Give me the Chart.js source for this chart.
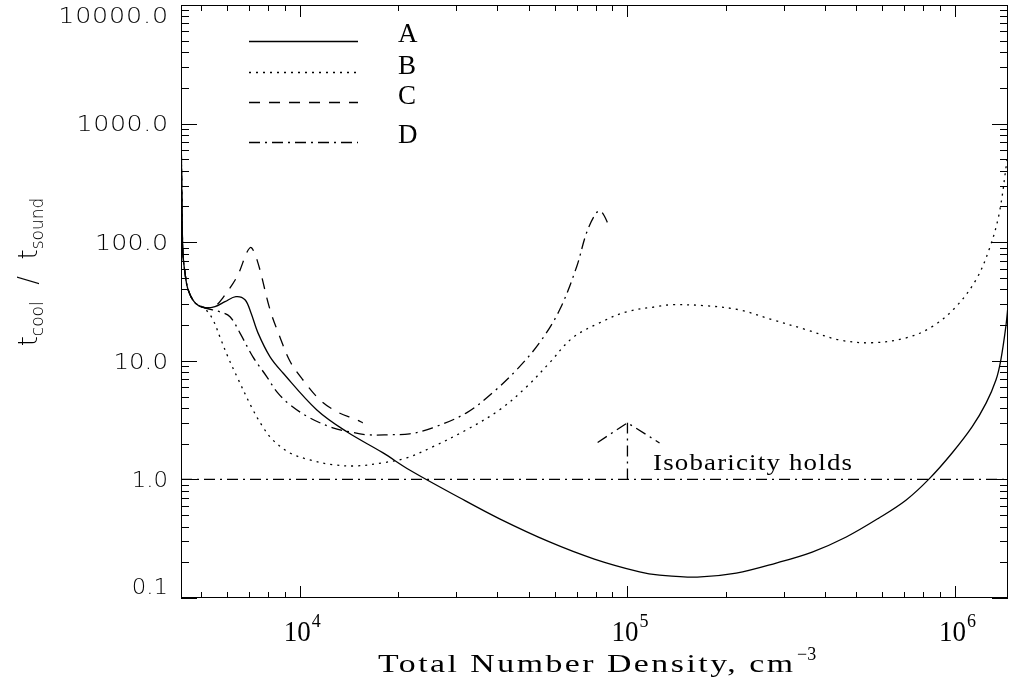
<!DOCTYPE html>
<html>
<head>
<meta charset="utf-8">
<title>t_cool / t_sound vs density</title>
<script src="https://cdn.jsdelivr.net/npm/chart.js@4.4.1/dist/chart.umd.min.js"></script>
<style>
    html, body { margin: 0; padding: 0; background: #fff; }
    #wrap { width: 1009px; height: 685px; position: relative; }
</style>
</head>
<body>
<div id="wrap"><canvas id="chart"></canvas></div>
<script>
// ========== DATA ==========
const xMin = 4337;
const xMax = 1451000;
const yMin = 0.1;
const yMax = 10000;

const xTickValues = [1e4, 1e5, 1e6];
const xTickExponents = ['4', '5', '6'];
const yTickValues = [0.1, 1, 10, 100, 1000, 10000];
const yTickLabels = ['0.1', '1.0', '10.0', '100.0', '1000.0', '10000.0'];

const densityA = [4340, 4365, 4395, 4460, 4560, 4790, 5130, 5510, 5910, 6380, 6800, 7090, 7450, 8110, 8870,
    11270, 13910, 17900, 21630, 30760, 40720, 57830, 79250, 108900, 125300, 163300, 214800, 284400,
    366400, 465600, 586100, 709600, 833700, 979500, 1127000, 1245000, 1334000, 1380000, 1429000, 1452000];
const ratioA = [890, 229, 81.5, 55.3, 39.7, 30.8, 28.0, 28.6, 31.5, 34.7, 32.7, 25.4, 17.2, 10.8, 7.93,
    3.85, 2.52, 1.68, 1.20, 0.70, 0.465, 0.297, 0.213, 0.166, 0.156, 0.150, 0.162, 0.197,
    0.244, 0.327, 0.473, 0.671, 1.01, 1.67, 2.77, 4.42, 6.92, 10.2, 19.4, 29.7];

const densityB = [4340, 4365, 4395, 4460, 4560, 4790, 5130, 5430, 5700, 6030, 6430, 7140, 7710, 8270, 9330,
    10730, 12610, 14920, 17910, 21190, 25420, 32270, 40720, 49230, 57830, 67940, 82200, 99400,
    122500, 137100, 174100, 219500, 276600, 351400, 443000, 558200, 709400, 851200, 1007000,
    1159000, 1270000, 1362000, 1442000];
const ratioB = [890, 229, 81.5, 55.3, 39.7, 30.8, 27.5, 22.2, 15.9, 10.8, 7.33, 4.01, 2.77, 2.15, 1.67,
    1.46, 1.33, 1.30, 1.38, 1.52, 1.88, 2.62, 3.86, 6.04, 9.62, 15.6, 20.9, 25.9,
    28.6, 29.7, 29.1, 26.9, 22.2, 18.3, 15.0, 14.2, 15.6, 19.4, 28.6,
    48.3, 86.4, 171, 497];

const densityC = [4340, 4365, 4395, 4460, 4560, 4790, 5130, 5510, 5820, 6430, 7050, 7400, 8110, 8690, 9330,
    10210, 11510, 12970, 14920, 15560];
const ratioC = [890, 229, 81.5, 55.3, 39.7, 30.8, 28.0, 29.0, 34.0, 51.2, 90, 71, 26.9, 15.9, 9.9,
    6.92, 4.69, 3.72, 3.18, 3.0];

const densityD = [4340, 4365, 4395, 4460, 4560, 4790, 5130, 5700, 6120, 6560, 7190, 7930, 8510, 9330, 10730,
    12610, 14190, 15990, 18790, 21630, 25420, 32270, 38730, 45880, 53920, 62090, 69980, 75030,
    80400, 83290, 88130];
const ratioD = [890, 229, 81.5, 55.3, 39.7, 30.8, 28.0, 25.9, 23.5, 17.2, 10.8, 7.33, 5.47, 4.26, 3.30,
    2.72, 2.52, 2.38, 2.38, 2.42, 2.72, 3.64, 5.37, 8.39, 14.2, 26.9, 62.1, 120,
    177, 181, 135];

// isobaricity line and arrow
const densityIso = [xMin, xMax];
const ratioIso = [1, 1];
const densityArrow = [1e5, 1e5];
const ratioArrow = [1, 3.0];
const densityHead = [81100, 1e5, 125300];
const ratioHead = [2.05, 3.0, 2.03];

// ========== STYLE ==========
const SERIF = '"Liberation Serif", "DejaVu Serif", serif';
const SANS = '"DejaVu Sans", "Liberation Sans", sans-serif';
const DOTTED = [2, 5];
const DASHED = [11, 9];
const DASHDOT = [11, 5, 2, 5];

function pts(xs, ys) {
    return xs.map((x, i) => ({ x: x, y: ys[i] }));
}

// draw text widened to a given width (some stretch, rest letter spacing)
function fitText(ctx, text, x, y, width, align, maxStretch) {
    ctx.letterSpacing = '0px';
    const w = ctx.measureText(text).width;
    const sx = Math.min(width / w, maxStretch || 1);
    const ls = text.length > 1 ? (width / sx - w) / (text.length - 1) : 0;
    ctx.letterSpacing = ls + 'px';
    ctx.textAlign = 'left';
    let start = x;
    if (align === 'right') start = x - width;
    if (align === 'center') start = x - width / 2;
    ctx.save();
    ctx.translate(start, y);
    ctx.scale(sx, 1);
    ctx.fillText(text, 0, 0);
    ctx.restore();
    ctx.letterSpacing = '0px';
}

function seg(ctx, x1, y1, x2, y2) {
    ctx.beginPath();
    ctx.moveTo(x1, y1);
    ctx.lineTo(x2, y2);
    ctx.stroke();
}

// ========== FRAME, TICKS, LABELS ==========
const axisFrame = {
    id: 'axisFrame',
    afterDatasetsDraw(chart) {
        const { ctx, chartArea: a } = chart;
        const xs = chart.scales.x;
        const ys = chart.scales.y;
        ctx.save();
        ctx.strokeStyle = '#000';
        ctx.fillStyle = '#000';
        ctx.lineWidth = 1;
        ctx.setLineDash([]);
        ctx.strokeRect(a.left + 0.5, a.top + 0.5, a.right - a.left - 1, a.bottom - a.top - 1);

        // x ticks (top and bottom, inward)
        for (let e = 3; e <= 6; e++) {
            for (let k = 1; k <= 9; k++) {
                const v = k * Math.pow(10, e);
                if (v < xs.min || v > xs.max) continue;
                const px = Math.round(xs.getPixelForValue(v)) + 0.5;
                const len = k === 1 ? 12 : 6;
                seg(ctx, px, a.bottom, px, a.bottom - len);
                seg(ctx, px, a.top, px, a.top + len);
            }
        }
        // y ticks (left and right, inward)
        for (let e = -1; e <= 4; e++) {
            for (let k = 1; k <= 9; k++) {
                const v = k * Math.pow(10, e);
                if (v < ys.min * 0.999 || v > ys.max * 1.001) continue;
                const py = Math.round(ys.getPixelForValue(v)) + 0.5;
                const len = k === 1 ? 16 : 8;
                seg(ctx, a.left, py, a.left + len, py);
                seg(ctx, a.right, py, a.right - len, py);
            }
        }

        // y tick labels
        ctx.font = '200 22px ' + SANS;
        ctx.textBaseline = 'middle';
        yTickValues.forEach((v, i) => {
            const text = yTickLabels[i];
            let py = ys.getPixelForValue(v) + 2;
            py = Math.min(Math.max(py, 17), 588);
            fitText(ctx, text, 168, py, 18.4 * text.length - 19, 'right', 1.15);
        });

        // x tick labels: 10 with superscript exponent
        ctx.textBaseline = 'alphabetic';
        xTickValues.forEach((v, i) => {
            const cx = xs.getPixelForValue(v) + 2.5;
            const wBase = 27;
            ctx.font = '18px ' + SERIF;
            const wExp = ctx.measureText(xTickExponents[i]).width;
            const left = cx - (wBase + 1 + wExp) / 2;
            ctx.font = '29px ' + SERIF;
            fitText(ctx, '10', left, 641, wBase, 'left', 1);
            ctx.font = '18px ' + SERIF;
            ctx.fillText(xTickExponents[i], left + wBase + 1, 627);
        });

        // x title
        ctx.font = '26px ' + SERIF;
        fitText(ctx, 'Total Number Density, cm', 378, 672, 415, 'left', 1.3);
        ctx.font = '18px ' + SERIF;
        ctx.textAlign = 'left';
        ctx.fillText('\u22123', 797, 660);

        // y title, rotated: t_cool / t_sound
        ctx.save();
        ctx.translate(37, 272);
        ctx.rotate(-Math.PI / 2);
        const parts = [
            { t: 't', f: '300 26px ' + SANS, dy: 0 },
            { t: 'cool', f: '300 17px ' + SANS, dy: 6 },
            { t: '  /  ', f: '300 26px ' + SANS, dy: 0 },
            { t: 't', f: '300 26px ' + SANS, dy: 0 },
            { t: 'sound', f: '300 17px ' + SANS, dy: 6 }
        ];
        let total = 0;
        parts.forEach(p => { ctx.font = p.f; p.w = ctx.measureText(p.t).width; total += p.w; });
        let tx = -total / 2;
        ctx.textAlign = 'left';
        parts.forEach(p => {
            ctx.font = p.f;
            ctx.fillText(p.t, tx, p.dy);
            tx += p.w;
        });
        ctx.restore();

        // annotation
        ctx.font = '24px ' + SERIF;
        fitText(ctx, 'Isobaricity holds', 653, 470, 199, 'left', 1.12);
        ctx.restore();
    }
};

// ========== LEGEND (line samples + letters) ==========
const curveLegend = {
    id: 'curveLegend',
    afterDatasetsDraw(chart, args, opts) {
        const ctx = chart.ctx;
        ctx.save();
        let row = 0;
        chart.data.datasets.forEach(ds => {
            if (!ds.label) return;
            const ly = opts.lineY[row] + 0.5;
            ctx.strokeStyle = ds.borderColor;
            ctx.lineWidth = ds.borderWidth;
            ctx.setLineDash(ds.borderDash || []);
            seg(ctx, opts.x1, ly, opts.x2, ly);
            ctx.setLineDash([]);
            ctx.fillStyle = '#000';
            ctx.font = '27px ' + SERIF;
            ctx.textAlign = 'left';
            ctx.textBaseline = 'alphabetic';
            ctx.fillText(ds.label, opts.textX, opts.textY[row]);
            row++;
        });
        ctx.restore();
    }
};

function curve(label, xs, ys, dash) {
    return {
        label: label,
        data: pts(xs, ys),
        borderColor: '#000',
        borderWidth: 1.3,
        borderDash: dash,
        pointRadius: 0,
        fill: false,
        tension: 0.35
    };
}

function guide(xs, ys) {
    return {
        label: '',
        data: pts(xs, ys),
        borderColor: '#000',
        borderWidth: 1.3,
        borderDash: DASHDOT,
        pointRadius: 0,
        fill: false,
        tension: 0
    };
}

// ========== INITIALIZATION ==========
const ctx = document.getElementById('chart').getContext('2d');
new Chart(ctx, {
    type: 'line',
    data: {
        datasets: [
            curve('A', densityA, ratioA, []),
            curve('B', densityB, ratioB, DOTTED),
            curve('C', densityC, ratioC, DASHED),
            curve('D', densityD, ratioD, DASHDOT),
            guide(densityIso, ratioIso),
            guide(densityArrow, ratioArrow),
            guide(densityHead, ratioHead)
        ]
    },
    options: {
        animation: false,
        responsive: true,
        maintainAspectRatio: false,
        devicePixelRatio: 1,
        layout: { padding: { left: 181, right: 1, top: 5, bottom: 87 } },
        plugins: {
            legend: { display: false },
            tooltip: { enabled: false },
            curveLegend: { x1: 249, x2: 358, lineY: [41, 72, 102, 142], textX: 398, textY: [42, 74, 104, 143] }
        },
        scales: {
            x: { type: 'logarithmic', min: xMin, max: xMax, display: false },
            y: { type: 'logarithmic', min: yMin, max: yMax, display: false }
        }
    },
    plugins: [axisFrame, curveLegend]
});
</script>
</body>
</html>
